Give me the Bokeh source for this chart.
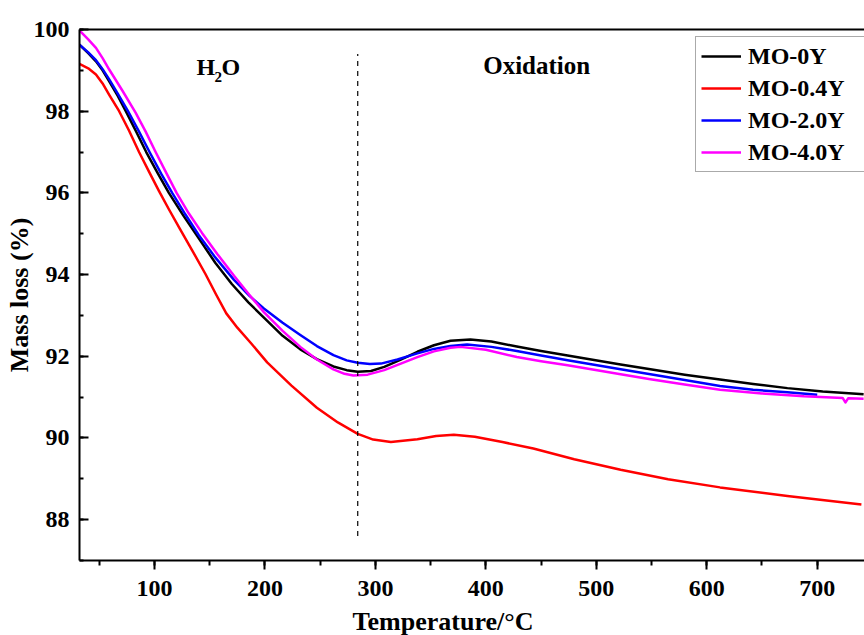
from bokeh.plotting import figure
from bokeh.layouts import column
from bokeh.models import Range1d, LinearAxis, SingleIntervalTicker, FixedTicker, Label
from bokeh.embed import file_html
from bokeh.resources import INLINE

# ---------------- data ----------------
temp_0Y = [32, 40, 47, 53, 59, 67, 74, 83, 92.5, 103, 113, 126, 139, 155, 170, 185, 200, 216, 232, 247,
           262, 274, 284, 296, 308, 323, 338, 353, 368, 386, 405, 428, 450, 474, 498, 522, 549, 580, 612,
           642, 673, 705, 742]
mass_0Y = [99.63, 99.42, 99.22, 99.0, 98.73, 98.36, 98.0, 97.52, 97.0, 96.48, 96.0, 95.45, 94.93, 94.29,
           93.77, 93.32, 92.92, 92.5, 92.17, 91.93, 91.75, 91.66, 91.62, 91.64, 91.74, 91.92, 92.11, 92.27,
           92.38, 92.41, 92.36, 92.24, 92.13, 92.02, 91.91, 91.80, 91.68, 91.55, 91.43, 91.32, 91.22,
           91.14, 91.07]

temp_04Y = [32, 40, 47, 53, 59, 68, 77, 86, 95, 104, 113, 123, 135, 146, 156, 165, 175, 188, 202, 224,
            247, 266, 284, 298, 314, 338, 355, 371, 390, 415, 443, 480, 522, 565, 612, 673, 740]
mass_04Y = [99.16, 99.05, 98.9, 98.68, 98.4, 98.0, 97.52, 97.0, 96.52, 96.05, 95.6, 95.12, 94.55, 94.02,
            93.5, 93.05, 92.7, 92.3, 91.85, 91.28, 90.74, 90.38, 90.10, 89.96, 89.90, 89.97, 90.05, 90.08,
            90.03, 89.90, 89.74, 89.48, 89.22, 88.99, 88.79, 88.58, 88.37]

temp_20Y = [32, 40, 47, 53, 59, 67, 76, 86, 95.5, 106, 116, 128, 140, 155, 172, 186, 199, 216, 232, 247,
            262, 274, 284, 295, 305, 320, 338, 353, 368, 383, 405, 428, 450, 474, 498, 522, 549, 580, 612,
            642, 673, 700]
mass_20Y = [99.63, 99.44, 99.25, 99.03, 98.78, 98.42, 98.0, 97.5, 97.0, 96.47, 96.0, 95.47, 94.97, 94.42,
            93.87, 93.48, 93.17, 92.82, 92.52, 92.25, 92.03, 91.9, 91.84, 91.81, 91.82, 91.92, 92.07, 92.18,
            92.25, 92.29, 92.23, 92.13, 92.02, 91.90, 91.79, 91.68, 91.56, 91.42, 91.27, 91.18, 91.12,
            91.06]

temp_40Y = [32, 40, 47, 53, 59, 71, 83, 92, 101, 111, 120, 131, 143, 157, 172, 186, 199, 216, 232, 247,
            262, 272, 280, 293, 308, 323, 338, 353, 368, 377, 400, 428, 450, 474, 498, 522, 549, 580, 612,
            650, 688, 723, 725.5, 728, 742]
mass_40Y = [99.98, 99.76, 99.55, 99.3, 99.02, 98.5, 97.96, 97.5, 97.0, 96.47, 96.0, 95.5, 95.02, 94.5,
            93.97, 93.5, 93.08, 92.62, 92.23, 91.92, 91.68, 91.57, 91.53, 91.55, 91.66, 91.82, 91.98, 92.12,
            92.21, 92.23, 92.16, 91.98, 91.88, 91.78, 91.67, 91.56, 91.44, 91.31, 91.18, 91.09, 91.02,
            90.98, 90.87, 90.97, 90.96]

series_names = ["MO-0Y", "MO-0.4Y", "MO-2.0Y", "MO-4.0Y"]
series_colors = ["#000000", "#ff0000", "#0000ff", "#ff00ff"]

divider_temp = [284]
divider_mass_low = [87.6]
divider_mass_high = [99.4]

FONT = "Liberation Serif"

p = figure(width=864, height=600,
           x_range=Range1d(32.1, 742.8), y_range=Range1d(87.0, 100.0),
           output_backend="svg", toolbar_location=None,
           min_border_left=79, min_border_right=0, min_border_top=29, min_border_bottom=40)
p.outline_line_color = None
p.grid.visible = False
p.background_fill_color = "white"
p.border_fill_color = "white"

# x axis
xa = p.xaxis[0]
xa.ticker = SingleIntervalTicker(interval=100, num_minor_ticks=2)
xa.axis_line_width = 2
xa.major_tick_line_width = 2
xa.minor_tick_line_width = 2
xa.major_tick_in = 0
xa.major_tick_out = 9
xa.minor_tick_in = 0
xa.minor_tick_out = 5
xa.major_label_standoff = 11
xa.major_label_text_font = FONT
xa.major_label_text_font_style = "bold"
xa.major_label_text_font_size = "24px"
xa.major_label_text_color = "black"

# y axis
ya = p.yaxis[0]
ya.ticker = SingleIntervalTicker(interval=2, num_minor_ticks=2)
ya.axis_line_width = 2
ya.major_tick_line_width = 2
ya.minor_tick_line_width = 2
ya.major_tick_in = 9
ya.major_tick_out = 0
ya.minor_tick_in = 4
ya.minor_tick_out = 0
ya.major_label_standoff = 10
ya.major_label_text_font = FONT
ya.major_label_text_font_style = "bold"
ya.major_label_text_font_size = "24px"
ya.major_label_text_color = "black"
ya.axis_label = "Mass loss (%)"
ya.axis_label_text_font = FONT
ya.axis_label_text_font_style = "bold"
ya.axis_label_text_font_size = "26px"
ya.axis_label_text_color = "black"
ya.axis_label_standoff = -3

# top frame line
top = LinearAxis(ticker=FixedTicker(ticks=[]), axis_line_width=2,
                 major_tick_in=0, major_tick_out=0, minor_tick_in=0, minor_tick_out=0)
p.add_layout(top, "above")

# curves
all_x = [temp_0Y, temp_04Y, temp_20Y, temp_40Y]
all_y = [mass_0Y, mass_04Y, mass_20Y, mass_40Y]
for xs, ys, name, col in zip(all_x, all_y, series_names, series_colors):
    p.line(xs, ys, line_color=col, line_width=2.5, legend_label=name, line_join="round")

# dashed divider
p.segment(x0=divider_temp, y0=divider_mass_low, x1=divider_temp, y1=divider_mass_high,
          line_color="black", line_width=1.2, line_dash="5 5")

# annotations
p.add_layout(Label(x=138, y=99.08, text="H", text_font=FONT, text_font_style="bold",
                   text_font_size="24px", text_color="black", text_baseline="alphabetic"))
p.add_layout(Label(x=138, y=98.84, x_offset=18, text="2", text_font=FONT, text_font_style="bold",
                   text_font_size="15px", text_color="black", text_baseline="alphabetic"))
p.add_layout(Label(x=138, y=99.08, x_offset=25, text="O", text_font=FONT, text_font_style="bold",
                   text_font_size="24px", text_color="black", text_baseline="alphabetic"))
p.add_layout(Label(x=446, y=99.12, text="Oxidation", text_font=FONT, text_font_style="bold",
                   text_font_size="25px", text_color="black", text_align="center",
                   text_baseline="middle"))

# legend
lg = p.legend[0]
lg.location = (616, 388)
lg.label_text_font = FONT
lg.label_text_font_style = "bold"
lg.label_text_font_size = "24px"
lg.label_text_color = "black"
lg.glyph_width = 40
lg.glyph_height = 28
lg.label_height = 28
lg.label_width = 112
lg.label_standoff = 7
lg.spacing = 4
lg.padding = 5
lg.margin = 0
lg.border_line_color = "#555555"
lg.border_line_width = 1
lg.background_fill_alpha = 1.0

# x-axis title strip below (the reference puts it left of the frame centre)
# its frame is aligned with the main frame (page x 79..864), so the range is in page pixels
cap = figure(width=864, height=35, x_range=Range1d(79, 864), y_range=Range1d(0, 35),
             output_backend="svg", toolbar_location=None, x_axis_type=None, y_axis_type=None,
             min_border_left=79, min_border_right=0, min_border_top=0, min_border_bottom=0)
cap.outline_line_color = None
cap.grid.visible = False
cap.add_layout(Label(x=442.5, y=14, text="Temperature/°C", text_font=FONT, text_font_style="bold",
                     text_font_size="26px", text_color="black", text_align="center",
                     text_baseline="middle"))

layout = column(p, cap, spacing=0)
open("out.html", "w").write(file_html(layout, INLINE))
